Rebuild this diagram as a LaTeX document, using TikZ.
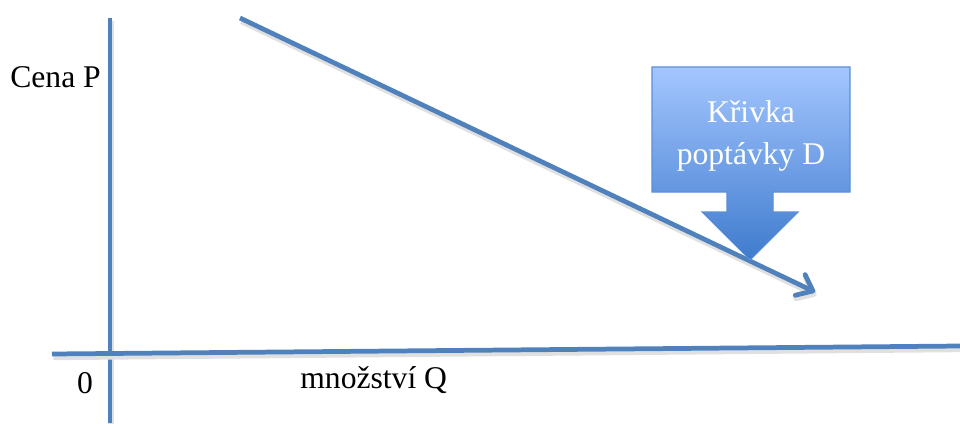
\documentclass[tikz,border=0pt]{standalone}
\usepackage{fontspec}
\setmainfont{Liberation Serif}
\usepackage{xcolor}
\usetikzlibrary{arrows.meta}
\definecolor{lineblue}{HTML}{4F81BD}
\definecolor{boxtop}{HTML}{A4C6FF}
\definecolor{boxbottom}{HTML}{3F7BCD}
\definecolor{boxedge}{HTML}{5A8FD6}

\begin{document}
\begin{tikzpicture}[x=0.02cm, y=-0.02cm,
    blueline/.style={draw=lineblue, line width=2.7pt,
      preaction={draw=black!12, line width=3.4pt, transform canvas={shift={(0.8pt,-1.8pt)}}}},
    txt/.style={font=\fontsize{18}{24}\selectfont, inner sep=0pt},
  ]
        \useasboundingbox (0,0) rectangle (960,423);

        %% Ends of the axes
        \coordinate (ytop) at (110,18);
        \coordinate (ybot) at (110,423);
        \coordinate (xleft) at (52,354);
        \coordinate (xright) at (960,346);

        %% Ends of the demand line
        \coordinate (dstart) at (240,18);
        \coordinate (dend) at (815,292);

        %% Axes
        \draw [blueline] (ybot) -- (ytop);
        \draw [blueline] (xleft) -- (xright);

        %% Demand line
        \draw [blueline, -{Straight Barb[length=8pt,width=13pt,round]}] (dstart) -- (dend);

        %% Callout pointing at the line
        \shadedraw [top color=boxtop, bottom color=boxbottom, draw=boxedge, line width=0.6pt]
          (652,67) -- (850,67) -- (850,192) -- (773,192) -- (773,212) -- (798,212)
          -- (750,260) -- (702,212) -- (727,212) -- (727,192) -- (652,192) -- cycle;
        \node (callout) [txt, text=white, align=center] at (751,136) {Křivka\\poptávky D};

        %% Axis labels
        \node (price) [txt, anchor=west] at (10,77) {Cena P};
        \node (zero) [txt] at (85,383) {0};
        \node (quantity) [txt, anchor=west] at (300,380) {množství Q};
\end{tikzpicture}
\end{document}
